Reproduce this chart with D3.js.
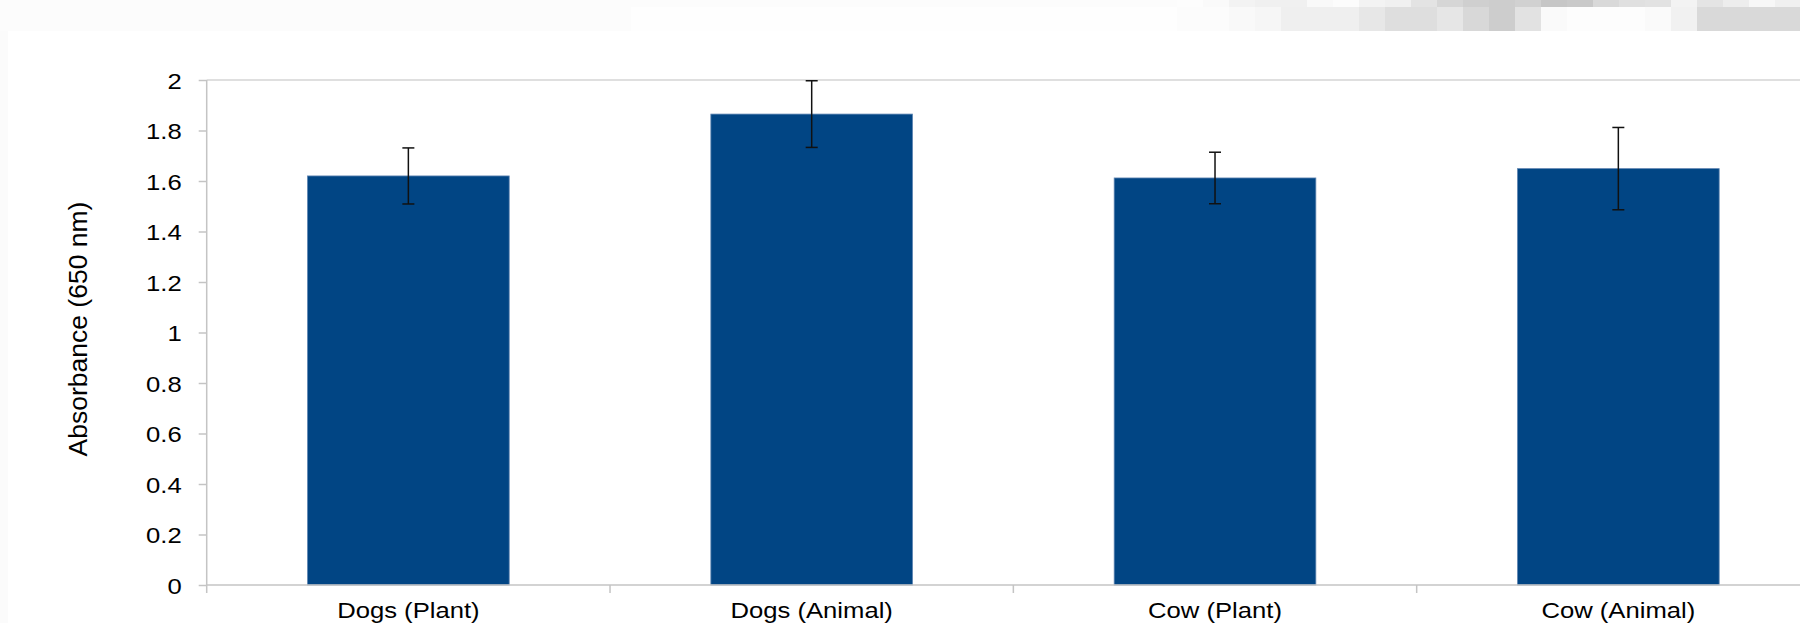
<!DOCTYPE html>
<html>
<head>
<meta charset="utf-8">
<script src="https://cdn.jsdelivr.net/npm/d3@7"></script>
<style>
  html, body { margin: 0; padding: 0; background: #ffffff; }
  svg { display: block; }
  text { font-family: "Liberation Sans", Arial, sans-serif; fill: #000; }
</style>
</head>
<body>
<svg id="chart" width="1800" height="623"></svg>
<script>
// Absorbance at 650 nm by sample group (mean ± error)
const categories = ["Dogs (Plant)", "Dogs (Animal)", "Cow (Plant)", "Cow (Animal)"];
const absorbance = [1.62, 1.865, 1.612, 1.649];
const errors = [0.111, 0.132, 0.102, 0.163];
const yTicks = [0, 0.2, 0.4, 0.6, 0.8, 1, 1.2, 1.4, 1.6, 1.8, 2];
const yTickLabels = ["0", "0.2", "0.4", "0.6", "0.8", "1", "1.2", "1.4", "1.6", "1.8", "2"];
const yTitle = "Absorbance (650 nm)";

// Grey scan strip along the top edge (two rows of shaded cells)
const stripUpper = ["#fafafa","#f3f3f3","#f0f0f0","#f0f0f0","#f9f9f9","#fcfcfc","#f3f3f3","#f0f0f0","#e3e3e3","#d6d6d6","#cfcfcf","#cdcdcd","#d1d1d1","#c6c6c6","#c9c9c9","#d9d9d9","#e0e0e0","#e2e2e2","#f3f3f3","#e4e4e4","#ededed","#f7f7f7","#f0f0f0"];
const stripLower = ["#fcfcfc","#f9f9f9","#f6f6f6","#efefef","#efefef","#efefef","#e7e7e7","#dedede","#dedede","#e6e6e6","#d8d8d8","#cdcdcd","#e2e2e2","#fafafa","#fdfdfd","#fdfdfd","#fdfdfd","#fafafa","#f1f1f1","#d9d9d9","#d9d9d9","#d9d9d9","#d9d9d9"];

const svg = d3.select("#chart");
const W = 1800, H = 623;
const margin = { left: 206.7, top: 80, bottom: 585 };
const plotRight = 1820;
const stretch = 1.14; // glyphs are drawn slightly wide

// background strip
const strip = svg.append("g");
strip.append("rect").attr("x", 0).attr("y", 0).attr("width", W).attr("height", 31).attr("fill", "#fcfcfc");
strip.append("rect").attr("x", 631).attr("y", 7).attr("width", 546).attr("height", 24).attr("fill", "#fefefe");
strip.append("rect").attr("x", 0).attr("y", 31).attr("width", 8).attr("height", H - 31).attr("fill", "#fbfbfb");
const cellX = d3.scaleLinear().domain([0, 1]).range([1203, 1229]);
strip.selectAll("rect.u").data(stripUpper).join("rect").attr("class", "u")
  .attr("x", (d, i) => cellX(i)).attr("y", 0).attr("width", 26.2).attr("height", 7).attr("fill", d => d);
strip.selectAll("rect.l").data(stripLower).join("rect").attr("class", "l")
  .attr("x", (d, i) => cellX(i)).attr("y", 7).attr("width", 26.2).attr("height", 24).attr("fill", d => d);
strip.append("rect").attr("x", 1177).attr("y", 0).attr("width", 26).attr("height", 7).attr("fill", "#fdfdfd");

// scales
const x = d3.scaleBand().domain(categories).range([margin.left, plotRight])
  .paddingInner(0.5).paddingOuter(0.25);
const y = d3.scaleLinear().domain([0, 2]).range([margin.bottom, margin.top]);

// top border line of plot area at y = 2
svg.append("line")
  .attr("x1", margin.left).attr("x2", plotRight)
  .attr("y1", y(2)).attr("y2", y(2))
  .attr("stroke", "#d4d4d4").attr("stroke-width", 1.5);

// bars
svg.append("g").selectAll("rect").data(categories).join("rect")
  .attr("x", d => x(d))
  .attr("y", (d, i) => y(absorbance[i]))
  .attr("width", x.bandwidth())
  .attr("height", (d, i) => y(0) - y(absorbance[i]))
  .attr("fill", "#014584")
  .attr("stroke", "#5e84b1").attr("stroke-width", 0.8);

// error bars
const eb = svg.append("g").attr("stroke", "#111").attr("stroke-width", 1.5);
categories.forEach((c, i) => {
  const cx = x(c) + x.bandwidth() / 2;
  const top = y(absorbance[i] + errors[i]);
  const bot = y(absorbance[i] - errors[i]);
  eb.append("line").attr("x1", cx).attr("x2", cx).attr("y1", top).attr("y2", bot);
  eb.append("line").attr("x1", cx - 6).attr("x2", cx + 6).attr("y1", top).attr("y2", top);
  eb.append("line").attr("x1", cx - 6).attr("x2", cx + 6).attr("y1", bot).attr("y2", bot);
});

// y axis
const yAxis = d3.axisLeft(y).tickValues(yTicks).tickSize(8).tickPadding(0)
  .tickFormat((d, i) => yTickLabels[i]);
const yg = svg.append("g").attr("transform", `translate(${margin.left},0)`).call(yAxis);
yg.select(".domain").remove();
yg.append("line").attr("x1", 0).attr("x2", 0).attr("y1", y(2)).attr("y2", y(0) + 8)
  .attr("stroke", "#c4c4c4").attr("stroke-width", 1.5);
yg.selectAll(".tick line").attr("stroke", "#c4c4c4").attr("stroke-width", 1.5);
yg.selectAll(".tick text")
  .attr("x", -25 / stretch).attr("dy", "0.36em")
  .attr("transform", `scale(${stretch},1)`)
  .style("font-size", "22.5px").attr("fill", "#000");
yg.attr("font-family", null).attr("font-size", null);

// x axis
const xg = svg.append("g");
xg.append("line").attr("x1", margin.left).attr("x2", plotRight)
  .attr("y1", y(0)).attr("y2", y(0))
  .attr("stroke", "#c4c4c4").attr("stroke-width", 1.5);
const boundaries = categories.map(c => x(c) + x.bandwidth() / 2 - x.step() / 2);
xg.selectAll("line.sep").data(boundaries.slice(1)).join("line").attr("class", "sep")
  .attr("x1", d => d).attr("x2", d => d)
  .attr("y1", y(0)).attr("y2", y(0) + 8)
  .attr("stroke", "#c4c4c4").attr("stroke-width", 1.5);
xg.selectAll("text").data(categories).join("text")
  .attr("transform", d => `translate(${x(d) + x.bandwidth() / 2},617.5) scale(${stretch},1)`)
  .attr("text-anchor", "middle")
  .style("font-size", "22.5px")
  .text(d => d);

// y title
svg.append("text")
  .attr("transform", "translate(87,329) rotate(-90)")
  .attr("text-anchor", "middle")
  .style("font-size", "26.5px")
  .text(yTitle);
</script>
</body>
</html>
